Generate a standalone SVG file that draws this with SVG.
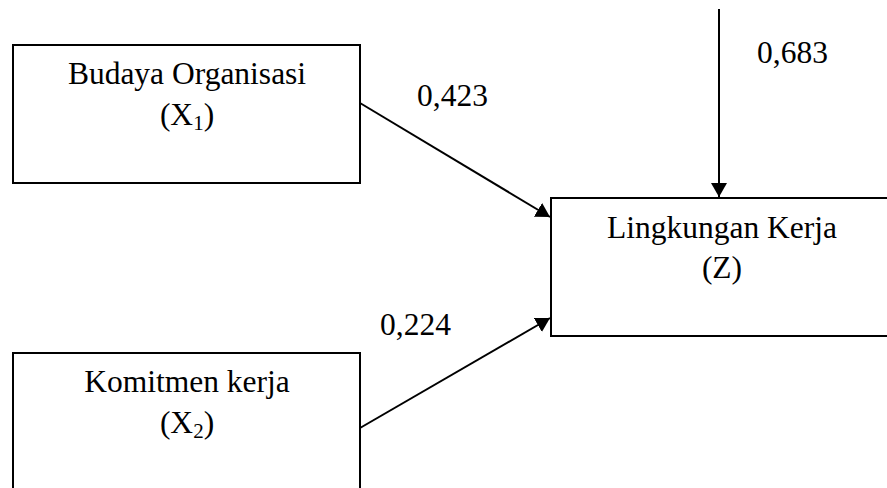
<svg xmlns="http://www.w3.org/2000/svg" width="887" height="488" viewBox="0 0 887 488">
<style>
.box{fill:#fff;stroke:#000;stroke-width:2}
.t{font-family:"Liberation Serif","Times New Roman",serif;font-size:31.5px;fill:#000;text-anchor:middle}
.lbl{font-family:"Liberation Serif","Times New Roman",serif;font-size:31.5px;fill:#000}
.sub{font-size:21px}
.c{stroke:#000;stroke-width:2;fill:none;marker-end:url(#ah)}
</style>
<defs>
<marker id="ah" viewBox="0 0 14 16" refX="14" refY="8" markerWidth="7" markerHeight="8" orient="auto" markerUnits="strokeWidth">
<path d="M0,0 L14,8 L0,16 z" fill="#000"/>
</marker>
</defs>
<rect width="887" height="488" fill="#fff"/>
<g id="x1">
<rect class="box" x="13" y="45" width="347" height="138"/>
<text class="t" x="187" y="84">Budaya Organisasi</text>
<text class="t" x="187" y="125">(X<tspan class="sub" dy="5">1</tspan><tspan dy="-5">)</tspan></text>
</g>
<g id="x2">
<rect class="box" x="13" y="353" width="347" height="140"/>
<text class="t" x="187" y="392">Komitmen kerja</text>
<text class="t" x="187" y="433">(X<tspan class="sub" dy="5">2</tspan><tspan dy="-5">)</tspan></text>
</g>
<g id="z">
<rect class="box" x="551" y="198" width="340" height="138"/>
<text class="t" x="722" y="238">Lingkungan Kerja</text>
<text class="t" x="722" y="278">(Z)</text>
</g>
<g id="connectors">
<line class="c" x1="360" y1="103" x2="550" y2="217"/>
<line class="c" x1="360" y1="428" x2="550" y2="318"/>
<line class="c" x1="719" y1="9" x2="719" y2="197"/>
</g>
<g id="labels">
<text class="lbl" x="417" y="106">0,423</text>
<text class="lbl" x="380" y="335">0,224</text>
<text class="lbl" x="757" y="63">0,683</text>
</g>
</svg>
